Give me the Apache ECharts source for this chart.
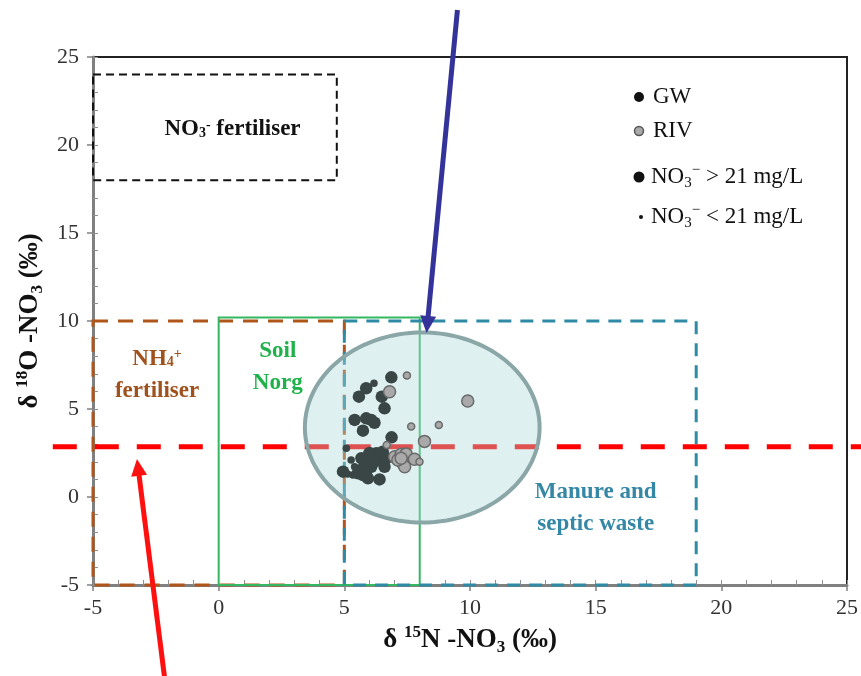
<!DOCTYPE html>
<html><head><meta charset="utf-8">
<script src="https://cdn.jsdelivr.net/npm/echarts@6/dist/echarts.min.js"></script>
<style>html,body{margin:0;padding:0;background:#fff}#c{width:861px;height:676px}</style>
</head><body><div id="c"></div>
<script>
// ---- data ----
const xTickLabels = [-5, 0, 5, 10, 15, 20, 25];
const yTickLabels = [-5, 0, 5, 10, 15, 20, 25];

// GW samples, NO3- > 21 mg/L  [d15N, d18O]
const gwHigh = [[6.87,6.80],[5.87,6.18],[5.58,5.70],[6.49,5.70],[6.60,5.04],[5.41,4.38],[5.87,4.47],[6.07,4.38],[6.20,4.22],[5.74,3.77],[6.88,3.39],[6.27,2.48],[6.53,2.57],[6.40,2.20],[6.67,2.20],[6.20,2.01],[6.60,1.72],[5.68,2.20],[5.74,1.63],[6.07,1.72],[5.74,1.25],[4.95,1.44],[6.00,1.93],[6.00,2.50],[5.87,1.44],[5.94,1.06],[6.40,1.00],[5.54,1.35]];
// GW samples, NO3- < 21 mg/L
const gwLow = [[6.18,6.46],[5.08,2.77],[5.27,2.10],[5.41,1.72],[5.34,1.25],[5.13,1.31],[4.85,1.44]];
// river samples, NO3- > 21 mg/L
const rivHigh = [[6.80,5.98],[9.91,5.45],[8.19,3.16],[7.00,2.29],[7.26,2.43],[7.46,2.45],[7.33,1.91],[7.79,2.14],[7.40,1.72],[7.13,2.10],[7.26,2.20]];
// river samples, NO3- < 21 mg/L
const rivLow = [[7.49,6.90],[7.66,4.00],[8.76,4.09],[6.69,2.95],[7.99,2.00]];

// source boxes [xMin, yMin, xMax, yMax]
const sourceBoxes = [[-5,18,4.7,24],[-5,-5,5,10],[0,-5,8,10.2],[5,-5,19,10]];
// threshold line [xFrom, xTo, y]
const thresholdLine = [[-6.6, 25.6, 2.85]];
// highlighted ellipse [cx, cy, rx, ry]
const clusterEllipse = [[8.1, 3.95, 4.67, 5.4]];
// annotation arrows [xFrom, yFrom, xTip, yTip]
const arrows = [[9.5,27.67,8.27,9.32],[-2.14,-10.4,-3.25,2.16]];
// region labels
const labelTexts = ['{b|NO}{s|3}{p|-}{b| fertiliser}','{b|NH}{s|4}{p|+}\n{b|fertiliser}','{b|Soil}\n{b|Norg}','{b|Manure and}\n{b|septic waste}'];
const labelPos = [[0.55,20.9],[-2.45,6.95],[2.35,7.4],[15.0,-0.65]];

// ---- styles ----
const boxStyles = [
  {color:'#111111', width:2, dash:[8,5]},
  {color:'#b0561a', width:3, dash:[15,10]},
  {color:'#33b861', width:2, dash:null},
  {color:'#2f8aa6', width:3, dash:[13,9]}
];
const labelColors = ['#111111','#a0521c','#1fb24a','#3587a6'];
const arrowColors = ['#343399','#ff1010'];
const serif = '"Liberation Serif", "Times New Roman", serif';

function richFor(color){
  return {
    b:{fontSize:23, fontWeight:'bold', fontFamily:serif, fill:color, color:color, lineHeight:32},
    s:{fontSize:14, fontWeight:'bold', fontFamily:serif, fill:color, color:color, lineHeight:14, verticalAlign:'bottom', padding:[0,0,5,0]},
    p:{fontSize:14, fontWeight:'bold', fontFamily:serif, fill:color, color:color, lineHeight:14, verticalAlign:'top', padding:[5,0,0,0]}
  };
}

const chart = echarts.init(document.getElementById('c'), null, {renderer:'canvas'});

const axisCommon = {
  type:'value', min:-5, max:25, interval:5,
  axisLine:{show:true, onZero:false, lineStyle:{color:'#808080', width:3}},
  axisTick:{show:true, inside:false, length:6, lineStyle:{color:'#808080', width:1.5}},
  splitLine:{show:false},
  axisLabel:{fontFamily:serif, fontSize:22, color:'#333'}
};
const minorCommon = {
  type:'value', min:-5, max:25, interval:1,
  axisLine:{show:false, onZero:false}, axisLabel:{show:false}, splitLine:{show:false},
  axisTick:{show:true, inside:true, length:5, lineStyle:{color:'#909090', width:1}}
};
const nameRich = {
  a:{fontSize:27, fontWeight:'bold', fontFamily:serif, color:'#111', lineHeight:32},
  p:{fontSize:17, fontWeight:'bold', fontFamily:serif, color:'#111', lineHeight:17, verticalAlign:'top'},
  s:{fontSize:17, fontWeight:'bold', fontFamily:serif, color:'#111', lineHeight:17, verticalAlign:'bottom'}
};

const option = {
  animation:false,
  backgroundColor:'#ffffff',
  grid:{left:93, top:57, right:13, bottom:91, show:true, borderColor:'#222', borderWidth:2, backgroundColor:'transparent', containLabel:false},
  xAxis:[
    Object.assign({}, axisCommon, {
      position:'bottom',
      axisLabel:Object.assign({}, axisCommon.axisLabel, {margin:12, formatter:v => xTickLabels.includes(v) ? String(v) : ''}),
      name:'{a|δ }{p|15}{a|N -NO}{s|3}{a| (‰)}', nameLocation:'middle', nameGap:29,
      nameTextStyle:{rich:nameRich}
    }),
    Object.assign({}, minorCommon, {position:'bottom'})
  ],
  yAxis:[
    Object.assign({}, axisCommon, {
      position:'left',
      axisLabel:Object.assign({}, axisCommon.axisLabel, {margin:14, formatter:v => yTickLabels.includes(v) ? String(v) : ''}),
      name:'{a|δ }{p|18}{a|O -NO}{s|3}{a| (‰)}', nameLocation:'middle', nameGap:46, nameRotate:90,
      nameTextStyle:{rich:nameRich}
    }),
    Object.assign({}, minorCommon, {position:'left'})
  ],
  series:[
    {
      type:'custom', name:'boxes', z:2, clip:false, silent:true,
      data:sourceBoxes,
      renderItem:function(params, api){
        const i = params.dataIndex;
        const p1 = api.coord([api.value(0), api.value(1)]);
        const p2 = api.coord([api.value(2), api.value(3)]);
        const s = boxStyles[i];
        return {type:'rect',
          shape:{x:Math.min(p1[0],p2[0]), y:Math.min(p1[1],p2[1]), width:Math.abs(p2[0]-p1[0]), height:Math.abs(p2[1]-p1[1])},
          style:{fill:'none', stroke:s.color, lineWidth:s.width, lineDash:s.dash}};
      }
    },
    {
      type:'custom', name:'threshold', z:3, clip:false, silent:true,
      data:thresholdLine,
      renderItem:function(params, api){
        const a = api.coord([api.value(0), api.value(2)]);
        const b = api.coord([api.value(1), api.value(2)]);
        return {type:'line', shape:{x1:a[0], y1:a[1], x2:b[0], y2:b[1]},
          style:{stroke:'#ff0000', lineWidth:5, lineDash:[24,18]}};
      }
    },
    {
      type:'custom', name:'ellipse', z:4, clip:false, silent:true,
      data:clusterEllipse,
      renderItem:function(params, api){
        const c = api.coord([api.value(0), api.value(1)]);
        const r = api.size([api.value(2), api.value(3)]);
        const pts = [];
        for (let k = 0; k < 120; k++) {
          const t = k / 120 * Math.PI * 2;
          pts.push([c[0] + r[0]*Math.cos(t), c[1] + r[1]*Math.sin(t)]);
        }
        return {type:'polygon', shape:{points:pts},
          style:{fill:'rgba(171,216,216,0.38)', stroke:'#8aa6a6', lineWidth:4}};
      }
    },
    {type:'scatter', name:'GW high', z:5, data:gwHigh, symbolSize:12.5, itemStyle:{color:'#3a4646', opacity:1}},
    {type:'scatter', name:'GW low', z:5, data:gwLow, symbolSize:7.5, itemStyle:{color:'#3a4646', opacity:1}},
    {type:'scatter', name:'RIV high', z:6, data:rivHigh, symbolSize:12, itemStyle:{color:'#a9a9a9', borderColor:'#6a6a6a', borderWidth:1.5, opacity:1}},
    {type:'scatter', name:'RIV low', z:6, data:rivLow, symbolSize:7, itemStyle:{color:'#a9a9a9', borderColor:'#6a6a6a', borderWidth:1.5, opacity:1}},
    {
      type:'custom', name:'labels', z:7, clip:false, silent:true,
      data:labelPos,
      renderItem:function(params, api){
        const i = params.dataIndex;
        const p = api.coord([api.value(0), api.value(1)]);
        return {type:'text', x:p[0], y:p[1],
          style:{text:labelTexts[i], align:'center', verticalAlign:'middle', rich:richFor(labelColors[i]), fill:labelColors[i],
            fontFamily:serif, fontSize:23, fontWeight:'bold'}};
      }
    },
    {
      type:'custom', name:'arrows', z:8, clip:false, silent:true,
      data:arrows,
      renderItem:function(params, api){
        const i = params.dataIndex;
        const a = api.coord([api.value(0), api.value(1)]);
        const b = api.coord([api.value(2), api.value(3)]);
        const col = arrowColors[i];
        const dx = b[0]-a[0], dy = b[1]-a[1], L = Math.hypot(dx,dy), ux = dx/L, uy = dy/L;
        const hl = 17, hw = 8;
        const base = [b[0]-ux*hl, b[1]-uy*hl];
        return {type:'group', children:[
          {type:'line', shape:{x1:a[0], y1:a[1], x2:base[0]+ux*2, y2:base[1]+uy*2}, style:{stroke:col, lineWidth:5}},
          {type:'polygon', shape:{points:[[b[0],b[1]],[base[0]-uy*hw, base[1]+ux*hw],[base[0]+uy*hw, base[1]-ux*hw]]}, style:{fill:col}}
        ]};
      }
    }
  ],
  graphic:[
    {type:'circle', shape:{cx:639, cy:97, r:5}, style:{fill:'#111'}, z:20},
    {type:'text', x:653, y:97, z:20, style:{text:'GW', fontFamily:serif, fontSize:23, fill:'#111', verticalAlign:'middle', align:'left'}},
    {type:'circle', shape:{cx:639, cy:131, r:4.5}, style:{fill:'#a9a9a9', stroke:'#555', lineWidth:1.5}, z:20},
    {type:'text', x:653, y:131, z:20, style:{text:'RIV', fontFamily:serif, fontSize:23, fill:'#111', verticalAlign:'middle', align:'left'}},
    {type:'circle', shape:{cx:639, cy:177, r:5.5}, style:{fill:'#111'}, z:20},
    {type:'text', x:651, y:177, z:20, style:{text:'{a|NO}{s|3}{p|−}{a| > 21 mg/L}', verticalAlign:'middle', align:'left',
      rich:{a:{fontFamily:serif, fontSize:23, fill:'#111', lineHeight:28}, s:{fontFamily:serif, fontSize:15, fill:'#111', lineHeight:15, verticalAlign:'bottom'}, p:{fontFamily:serif, fontSize:15, fill:'#111', lineHeight:15, verticalAlign:'top'}}}},
    {type:'circle', shape:{cx:641, cy:217, r:2}, style:{fill:'#111'}, z:20},
    {type:'text', x:651, y:217, z:20, style:{text:'{a|NO}{s|3}{p|−}{a| < 21 mg/L}', verticalAlign:'middle', align:'left',
      rich:{a:{fontFamily:serif, fontSize:23, fill:'#111', lineHeight:28}, s:{fontFamily:serif, fontSize:15, fill:'#111', lineHeight:15, verticalAlign:'bottom'}, p:{fontFamily:serif, fontSize:15, fill:'#111', lineHeight:15, verticalAlign:'top'}}}}
  ]
};
chart.setOption(option);
</script>
</body></html>
